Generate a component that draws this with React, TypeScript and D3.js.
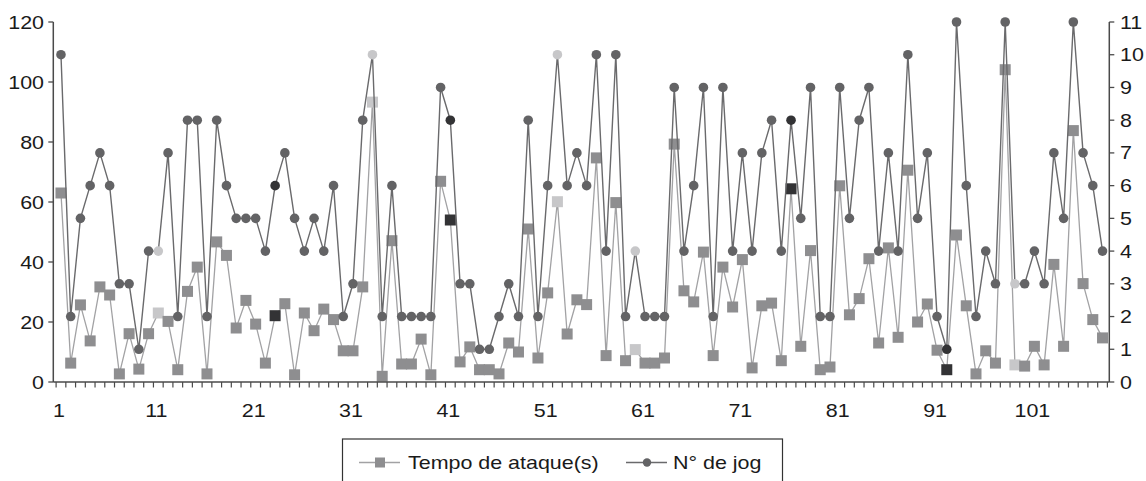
import React from "react";
import * as d3 from "d3";

const categories: number[] = d3.range(1, 109);

const tempoAtaque: number[] = [
  63, 6.3, 25.7, 13.7, 31.7, 29, 2.7, 16.1, 4.3, 16.1,
  23, 20.2, 4.1, 30.2, 38.3, 2.7, 46.7, 42.2, 18, 27.2,
  19.3, 6.3, 22.1, 26.1, 2.4, 23, 17.1, 24.3, 20.8, 10.4,
  10.4, 31.7, 93.3, 1.9, 47.1, 6, 6, 14.3, 2.4, 66.9,
  54, 6.7, 11.7, 4.1, 4.1, 2.7, 13, 10, 51, 8,
  29.7, 60.1, 16, 27.4, 25.8, 74.7, 8.8, 59.8, 7.1, 10.8,
  6.3, 6.3, 8, 79.3, 30.4, 26.7, 43.3, 8.8, 38.3, 25,
  40.8, 4.7, 25.4, 26.3, 7.1, 64.4, 11.9, 43.8, 4.1, 5,
  65.4, 22.4, 27.8, 41.1, 13, 44.7, 14.9, 70.6, 20, 26,
  10.6, 4.1, 49, 25.4, 2.7, 10.4, 6.3, 104.1, 5.7, 5.3,
  11.9, 5.7, 39.2, 11.9, 83.8, 32.8, 20.8, 14.7,
];

const nJog: number[] = [
  10, 2, 5, 6, 7, 6, 3, 3, 1, 4, 4, 7, 2, 8, 8, 2, 8, 6, 5, 5, 5, 4, 6, 7, 5, 4, 5, 4,
  6, 2, 3, 8, 10, 2, 6, 2, 2, 2, 2, 9, 8, 3, 3, 1, 1, 2, 3, 2, 8, 2, 6, 10, 6, 7, 6, 10, 4,
  10, 2, 4, 2, 2, 2, 9, 4, 6, 9, 2, 9, 4, 7, 4, 7, 8, 4, 8, 5, 9, 2, 2, 9, 5, 8, 9, 4, 7,
  4, 10, 5, 7, 2, 1, 11, 6, 2, 4, 3, 11, 3, 3, 4, 3, 7, 5, 11, 7, 6, 4,
];

const lightPoints: number[] = [11, 33, 52, 60, 99];
const darkPoints: number[] = [23, 41, 76, 92];

const xTickLabels: number[] = [1, 11, 21, 31, 41, 51, 61, 71, 81, 91, 101];
const leftTicks: number[] = [0, 20, 40, 60, 80, 100, 120];
const rightTicks: number[] = d3.range(0, 12);

const seriesNames = ["Tempo de ataque(s)", "N° de jog"];

const FONT = "'Liberation Sans', Arial, Helvetica, sans-serif";
const FS = 18.5;
const SX = 1.16;

const SQ_COLOR = "#8e8e90";
const SQ_LINE = "#a2a2a4";
const CI_COLOR = "#636365";
const CI_LINE = "#6a6a6c";
const LIGHT = "#c7c7c9";
const DARK = "#333335";
const AXIS = "#4a4a4a";

function T(props: { x: number; y: number; anchor?: string; children: React.ReactNode }) {
  return (
    <text
      transform={`translate(${props.x},${props.y}) scale(${SX},1)`}
      textAnchor={props.anchor || "start"}
      fontFamily={FONT}
      fontSize={FS}
      fill="#1a1a1a"
    >
      {props.children}
    </text>
  );
}

export default function App() {
  const W = 1146;
  const H = 481;
  const axisLeft = 53.3;
  const axisRight = 1109.3;
  const top = 22;
  const bottom = 382;

  const x = d3.scaleBand<number>().domain(categories).range([56.1, 1107.4]).padding(0);
  const cx = (c: number) => (x(c) as number) + x.bandwidth() / 2;
  const yL = d3.scaleLinear().domain([0, 120]).range([bottom, top]);
  const yR = d3.scaleLinear().domain([0, 11]).range([bottom, top]);

  const tempoLine = d3
    .line<number>()
    .x((_, i) => cx(categories[i]))
    .y((d) => yL(d));
  const jogLine = d3
    .line<number>()
    .x((_, i) => cx(categories[i]))
    .y((d) => yR(d));

  const colorFor = (c: number, base: string) =>
    lightPoints.includes(c) ? LIGHT : darkPoints.includes(c) ? DARK : base;

  const tickXs = categories.map((c) => x(c) as number).concat([x.range()[1]]);

  const sq = 11;

  return (
    <svg
      width={W}
      height={H}
      style={{ position: "absolute", left: 0, top: 0, background: "#fff" }}
    >
      {/* series: tempo */}
      <path d={tempoLine(tempoAtaque) || ""} fill="none" stroke={SQ_LINE} strokeWidth={1.3} />
      {tempoAtaque.map((v, i) => (
        <rect
          key={"s" + i}
          x={cx(categories[i]) - sq / 2}
          y={yL(v) - sq / 2}
          width={sq}
          height={sq}
          fill={colorFor(categories[i], SQ_COLOR)}
        />
      ))}
      {/* series: jog */}
      <path d={jogLine(nJog) || ""} fill="none" stroke={CI_LINE} strokeWidth={1.4} />
      {nJog.map((v, i) => (
        <circle
          key={"c" + i}
          cx={cx(categories[i])}
          cy={yR(v)}
          r={4.8}
          fill={colorFor(categories[i], CI_COLOR)}
        />
      ))}

      {/* axes */}
      <line x1={axisLeft} x2={axisLeft} y1={top} y2={bottom} stroke={AXIS} strokeWidth={1.5} />
      <line x1={axisRight} x2={axisRight} y1={top} y2={bottom} stroke={AXIS} strokeWidth={1.5} />
      <line x1={axisLeft} x2={axisRight} y1={bottom} y2={bottom} stroke={AXIS} strokeWidth={1.5} />

      {leftTicks.map((t) => (
        <g key={"lt" + t}>
          <line x1={axisLeft - 5} x2={axisLeft} y1={yL(t)} y2={yL(t)} stroke={AXIS} strokeWidth={1.3} />
          <T x={44} y={yL(t) + 6.5} anchor="end">
            {t}
          </T>
        </g>
      ))}
      {rightTicks.map((t) => (
        <g key={"rt" + t}>
          <line x1={axisRight} x2={axisRight + 5} y1={yR(t)} y2={yR(t)} stroke={AXIS} strokeWidth={1.3} />
          <T x={1120} y={yR(t) + 6.5}>
            {t}
          </T>
        </g>
      ))}
      {tickXs.map((tx, i) => (
        <line key={"xt" + i} x1={tx} x2={tx} y1={bottom} y2={bottom + 5.5} stroke={AXIS} strokeWidth={1.2} />
      ))}
      {xTickLabels.map((c) => (
        <T key={"xl" + c} x={cx(c) - 2} y={417} anchor="middle">
          {c}
        </T>
      ))}

      {/* legend */}
      <rect x={342.5} y={439} width={440} height={70} fill="none" stroke="#333" strokeWidth={1.2} />
      <line x1={359} x2={400} y1={462.5} y2={462.5} stroke={SQ_LINE} strokeWidth={1.3} />
      <rect x={375} y={457.5} width={10} height={10} fill={SQ_COLOR} />
      <T x={408} y={468.5}>{seriesNames[0]}</T>
      <line x1={626} x2={667} y1={462.5} y2={462.5} stroke={CI_LINE} strokeWidth={1.3} />
      <circle cx={647} cy={462.5} r={4.2} fill={CI_COLOR} />
      <T x={673} y={468.5}>{seriesNames[1]}</T>
    </svg>
  );
}
